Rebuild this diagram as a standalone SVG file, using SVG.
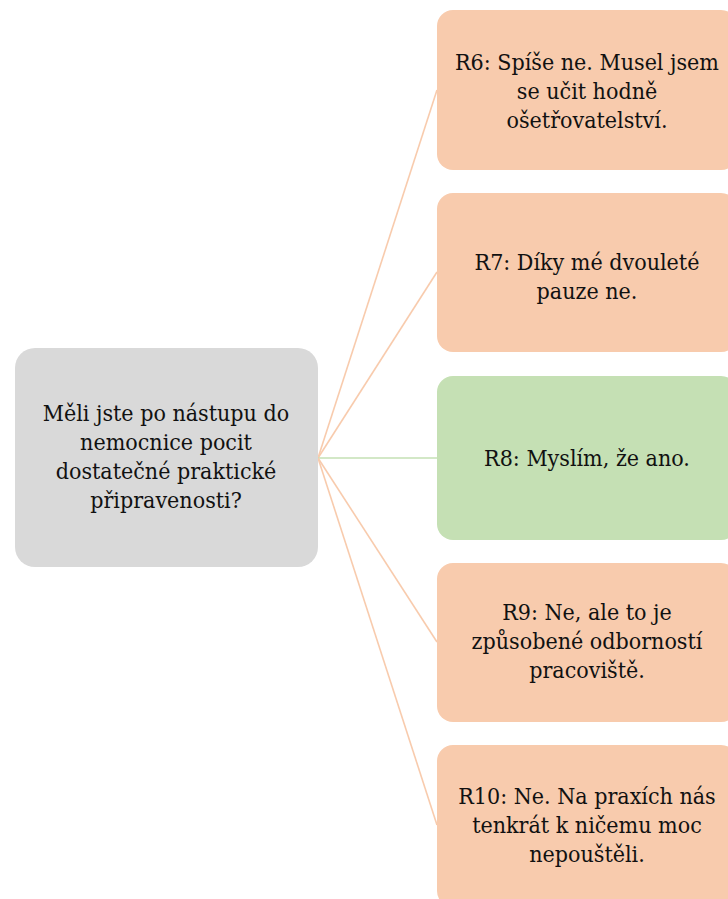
<svg xmlns="http://www.w3.org/2000/svg" width="728" height="899" viewBox="0 0 728 899">
<style>
.o{fill:#F8CBAD}
.g{fill:#C5E0B4}
.q{fill:#D9D9D9}
text{font-family:'DejaVu Serif Condensed','DejaVu Serif',serif;font-stretch:condensed;font-size:23px;fill:#111;text-anchor:middle}
.lo{stroke:#F8CBAD;stroke-width:1.6;fill:none}
.lg{stroke:#C5E0B4;stroke-width:1.6;fill:none}
</style>
<rect width="728" height="899" fill="#fff"/>
<g id="connectors">
<line class="lo" x1="318" y1="458" x2="437" y2="90"/>
<line class="lo" x1="318" y1="458" x2="437" y2="272"/>
<line class="lg" x1="318" y1="458" x2="437" y2="458"/>
<line class="lo" x1="318" y1="458" x2="437" y2="642"/>
<line class="lo" x1="318" y1="458" x2="437" y2="825"/>
</g>
<g id="q">
<rect class="q" x="15" y="348" width="303" height="219" rx="20"/>
<text x="166" y="421">Měli jste po nástupu do</text>
<text x="166" y="450">nemocnice pocit</text>
<text x="166" y="479">dostatečné praktické</text>
<text x="166" y="508">připravenosti?</text>
</g>
<g id="r6">
<rect class="o" x="437" y="10" width="300" height="160" rx="16"/>
<text x="587" y="70">R6: Spíše ne. Musel jsem</text>
<text x="587" y="99">se učit hodně</text>
<text x="587" y="128">ošetřovatelství.</text>
</g>
<g id="r7">
<rect class="o" x="437" y="193" width="300" height="159" rx="16"/>
<text x="587" y="270">R7: Díky mé dvouleté</text>
<text x="587" y="299">pauze ne.</text>
</g>
<g id="r8">
<rect class="g" x="437" y="376" width="300" height="164" rx="16"/>
<text x="587" y="466">R8: Myslím, že ano.</text>
</g>
<g id="r9">
<rect class="o" x="437" y="563" width="300" height="159" rx="16"/>
<text x="587" y="620">R9: Ne, ale to je</text>
<text x="587" y="649">způsobené odborností</text>
<text x="587" y="678">pracoviště.</text>
</g>
<g id="r10">
<rect class="o" x="437" y="745" width="300" height="162" rx="16"/>
<text x="587" y="804">R10: Ne. Na praxích nás</text>
<text x="587" y="833">tenkrát k ničemu moc</text>
<text x="587" y="862">nepouštěli.</text>
</g>
</svg>
